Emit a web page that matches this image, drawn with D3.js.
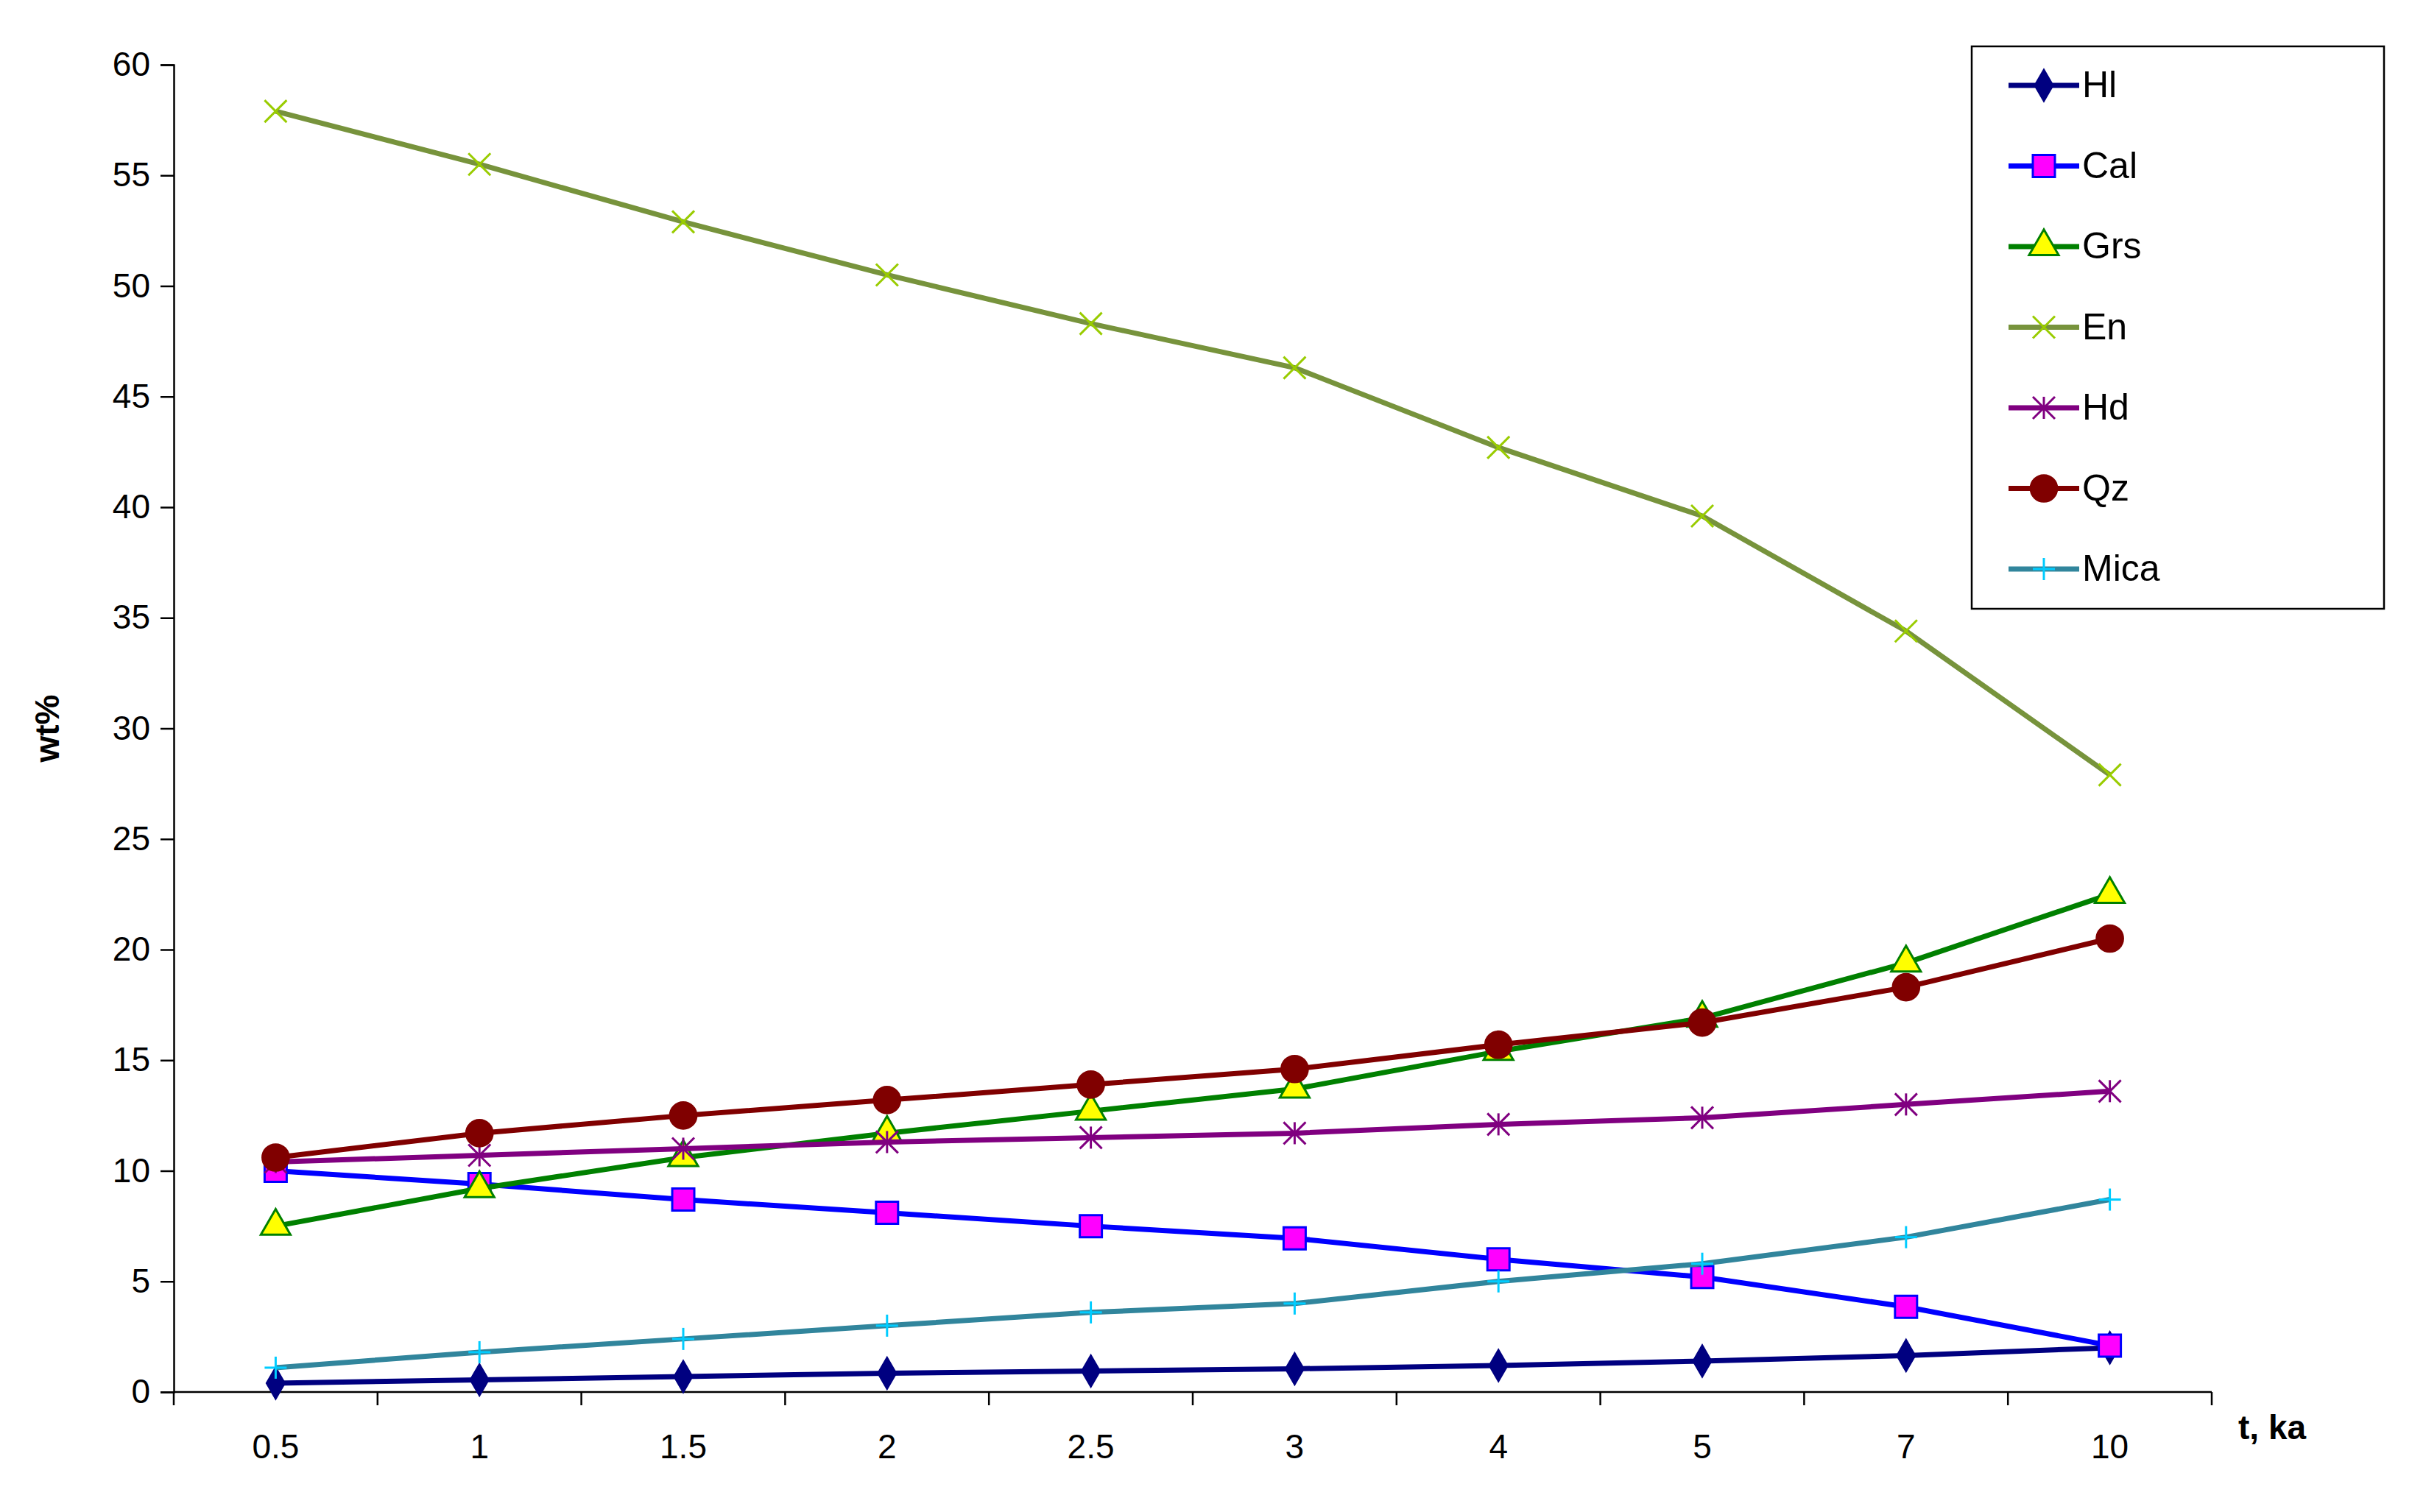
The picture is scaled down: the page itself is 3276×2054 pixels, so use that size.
<!DOCTYPE html>
<html><head><meta charset="utf-8">
<script src="https://cdn.jsdelivr.net/npm/d3@7"></script>
<style>body{margin:0;background:#fff}svg{font-family:"Liberation Sans",Arial,sans-serif}</style>
</head><body><svg id="c" width="3276" height="2054"></svg>
<script>
const categories = ["0.5","1","1.5","2","2.5","3","4","5","7","10"];
const hl   = [0.4,0.55,0.7,0.85,0.95,1.05,1.2,1.4,1.65,2.0];
const cal  = [10.0,9.4,8.7,8.1,7.5,6.95,6.0,5.2,3.85,2.1];
const grs  = [7.5,9.2,10.6,11.7,12.7,13.7,15.4,16.9,19.4,22.5];
const en   = [57.9,55.5,52.9,50.5,48.3,46.3,42.7,39.6,34.4,27.9];
const hd   = [10.4,10.7,11.0,11.3,11.5,11.7,12.1,12.4,13.0,13.6];
const qz   = [10.6,11.7,12.5,13.2,13.9,14.6,15.7,16.7,18.3,20.5];
const mica = [1.1,1.8,2.4,3.0,3.6,4.0,5.0,5.8,7.0,8.7];
const yTicks = d3.range(0, 61, 5);

const series = [
  {name:"Hl", v:hl, line:"#000080", marker:"diamond", fill:"#000080", stroke:"#000080"},
  {name:"Cal", v:cal, line:"#0000FF", marker:"square", fill:"#FF00FF", stroke:"#0000FF"},
  {name:"Grs", v:grs, line:"#008000", marker:"triangle", fill:"#FFFF00", stroke:"#008000"},
  {name:"En", v:en, line:"#77933C", marker:"x", fill:"none", stroke:"#99CC00"},
  {name:"Hd", v:hd, line:"#800080", marker:"star", fill:"none", stroke:"#800080"},
  {name:"Qz", v:qz, line:"#800000", marker:"circle", fill:"#800000", stroke:"#800000"},
  {name:"Mica", v:mica, line:"#31859C", marker:"plus", fill:"none", stroke:"#00CCFF"}
];

const svg = d3.select("#c");
const L = 236, R = 3004, T = 88, B = 1891;
const x = d3.scaleBand().domain(categories).range([L, R]);
const y = d3.scaleLinear().domain([0, 60]).range([B, T]);

// y axis
const ya = svg.append("g").attr("transform", `translate(${L},0)`)
  .call(d3.axisLeft(y).tickValues(yTicks).tickSize(18).tickPadding(14));
ya.selectAll("text").attr("font-size", 46).attr("fill", "#000");
ya.selectAll("line,path").attr("stroke", "#000").attr("stroke-width", 2.5);

// x axis
const xa = svg.append("g").attr("transform", `translate(0,${B})`);
xa.append("line").attr("x1", L).attr("x2", R).attr("stroke", "#000").attr("stroke-width", 2.5);
xa.selectAll(".tk").data(categories.concat(["end"])).join("line")
  .attr("x1", (d,i) => L + i * x.bandwidth()).attr("x2", (d,i) => L + i * x.bandwidth())
  .attr("y1", 0).attr("y2", 18).attr("stroke", "#000").attr("stroke-width", 2.5);
xa.selectAll("text").data(categories).join("text")
  .attr("x", d => x(d) + x.bandwidth()/2).attr("y", 90)
  .attr("text-anchor", "middle").attr("font-size", 46).text(d => d);

svg.append("text").attr("transform", `translate(80,${(T+B)/2}) rotate(-90)`)
  .attr("text-anchor", "middle").attr("font-size", 46).attr("font-weight", "bold").text("wt%");
svg.append("text").attr("x", 3040).attr("y", 1955).attr("font-size", 46)
  .attr("font-weight", "bold").text("t, ka");

function marker(g, type, s) {
  const sym = {diamond:d3.symbolDiamond, square:d3.symbolSquare, triangle:d3.symbolTriangle, circle:d3.symbolCircle};
  if (sym[type]) {
    const size = {diamond:500, square:900, triangle:700, circle:1000}[type];
    g.append("path").attr("d", d3.symbol(sym[type], size)()).attr("fill", s.fill)
      .attr("stroke", s.stroke).attr("stroke-width", 3);
  } else {
    const r = 15, p = [];
    if (type === "x" || type === "star") p.push([-r,-r,r,r],[-r,r,r,-r]);
    if (type === "plus" || type === "star") p.push([0,-r,0,r]);
    if (type === "plus") p.push([-r,0,r,0]);
    p.forEach(a => g.append("line").attr("x1",a[0]).attr("y1",a[1]).attr("x2",a[2]).attr("y2",a[3])
      .attr("stroke", s.stroke).attr("stroke-width", 3));
  }
}

const cx = d => x(d) + x.bandwidth()/2;
const line = d3.line().x((d,i) => cx(categories[i])).y(d => y(d));
series.forEach(s => {
  svg.append("path").datum(s.v).attr("d", line).attr("fill", "none")
    .attr("stroke", s.line).attr("stroke-width", 7);
  s.v.forEach((v,i) => marker(svg.append("g").attr("transform", `translate(${cx(categories[i])},${y(v)})`), s.marker, s));
});

// legend
const lg = svg.append("g").attr("transform", "translate(2678,63)");
lg.append("rect").attr("width", 560).attr("height", 764).attr("fill", "#fff")
  .attr("stroke", "#000").attr("stroke-width", 2.5);
series.forEach((s,i) => {
  const gy = 53 + i * 109.5;
  lg.append("line").attr("x1", 50).attr("x2", 146).attr("y1", gy).attr("y2", gy)
    .attr("stroke", s.line).attr("stroke-width", 7);
  marker(lg.append("g").attr("transform", `translate(98,${gy})`), s.marker, s);
  lg.append("text").attr("x", 150).attr("y", gy + 16).attr("font-size", 50).text(s.name);
});
</script></body></html>
